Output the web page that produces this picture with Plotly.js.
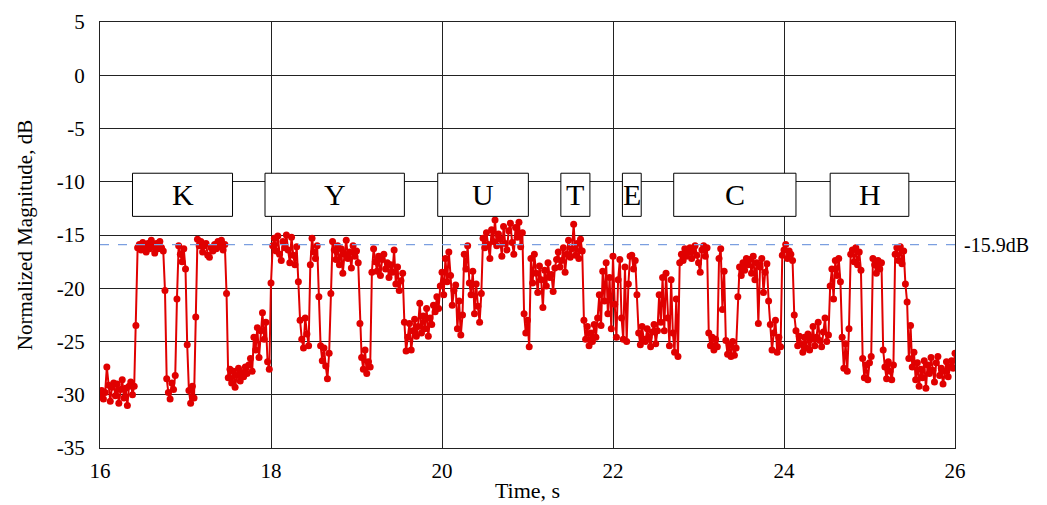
<!DOCTYPE html>
<html>
<head>
<meta charset="utf-8">
<script src="https://cdn.plot.ly/plotly-3.0.1.min.js"></script>
<style>
html,body{margin:0;padding:0;background:#fff;}
#chart{width:1047px;height:505px;}
</style>
</head>
<body>
<div id="chart"></div>
<script>
// Sampling of the magnitude trace
const sampleStart = 16.0;   // s
const samplePeriod = 0.02;  // s

// Normalized magnitude (dB), one row = 0.2 s
const magnitudeDb = [
 -30.2,-29.6,-30.4,-29.8,-27.4,-29.1,-30.6,-29.3,-28.9,-30.1,
 -29.0,-30.8,-29.5,-28.6,-30.3,-29.4,-31.0,-29.2,-28.8,-30.0,
 -29.2,-23.5,-16.2,-15.9,-16.4,-15.7,-16.1,-16.6,-15.8,-16.3,
 -15.5,-16.0,-16.7,-15.8,-16.3,-15.6,-16.2,-16.5,-20.2,-28.5,
 -29.8,-30.4,-28.9,-29.5,-28.2,-21.0,-16.0,-16.8,-17.5,-16.3,
 -18.2,-25.3,-29.6,-30.8,-29.2,-30.3,-22.7,-15.4,-16.0,-15.6,
 -16.6,-16.0,-15.8,-16.9,-17.1,-16.2,-16.5,-15.9,-16.3,-15.6,
 -16.1,-15.5,-16.4,-15.9,-20.5,-28.4,-27.6,-28.9,-27.8,-29.3,
 -28.2,-27.5,-28.7,-27.9,-28.3,-27.4,-28.0,-27.2,-26.6,-27.8,
 -24.6,-25.8,-23.7,-26.5,-24.0,-22.3,-24.8,-23.2,-26.9,-27.6,
 -19.5,-16.0,-15.3,-16.5,-15.1,-16.8,-17.4,-15.6,-16.2,-15.0,
 -16.4,-17.6,-15.2,-16.9,-17.8,-16.1,-19.4,-23.0,-24.8,-25.6,
 -22.8,-24.3,-25.4,-17.8,-15.3,-16.6,-17.2,-16.0,-20.8,-25.4,
 -26.8,-25.6,-27.3,-28.5,-26.1,-20.5,-15.6,-16.4,-17.3,-16.0,
 -17.8,-16.3,-18.6,-16.8,-15.5,-17.2,-16.6,-18.1,-16.0,-17.0,
 -16.5,-17.6,-23.3,-26.5,-27.6,-25.8,-28.0,-26.9,-27.4,-18.5,
 -16.3,-17.5,-18.4,-17.0,-18.8,-17.3,-16.8,-18.2,-17.6,-19.0,
 -17.8,-18.5,-16.4,-19.6,-18.0,-20.2,-19.3,-18.6,-23.2,-25.9,
 -24.6,-23.3,-25.8,-24.0,-22.9,-24.5,-23.6,-21.4,-24.2,-22.6,
 -23.8,-21.9,-24.5,-22.8,-23.4,-21.6,-22.2,-20.8,-21.9,-19.8,
 -18.5,-20.6,-17.2,-19.4,-16.6,-18.8,-21.6,-20.2,-19.7,-23.8,
 -21.2,-24.4,-22.5,-16.8,-18.2,-16.0,-19.5,-20.6,-18.4,-22.4,
 -19.6,-21.7,-23.2,-20.5,-15.3,-16.2,-14.8,-15.9,-17.2,-14.5,
 -15.6,-13.6,-16.0,-14.9,-15.4,-17.0,-14.2,-15.8,-16.4,-14.6,
 -13.9,-15.7,-16.8,-14.3,-15.2,-13.8,-16.1,-14.8,-22.4,-24.2,
 -23.0,-25.5,-17.2,-19.5,-16.8,-18.6,-20.4,-17.9,-19.2,-21.8,
 -18.3,-19.8,-17.6,-19.0,-18.7,-20.3,-18.1,-17.3,-16.6,-18.0,
 -17.4,-16.2,-18.5,-16.8,-15.5,-17.1,-16.3,-14.0,-16.9,-15.8,
 -17.2,-15.4,-16.5,-23.0,-24.8,-23.6,-25.4,-24.2,-25.0,-23.4,
 -24.6,-22.8,-20.6,-23.5,-18.4,-21.2,-17.6,-22.4,-19.0,-23.8,
 -17.0,-21.5,-24.6,-19.2,-17.3,-22.8,-24.8,-18.0,-25.0,-19.6,
 -17.0,-16.9,-18.2,-17.4,-20.6,-24.2,-25.3,-23.6,-24.8,-25.0,
 -23.8,-24.6,-25.5,-24.1,-23.4,-25.2,-24.0,-20.6,-23.2,-19.0,
 -24.0,-18.6,-22.8,-25.4,-19.2,-24.2,-26.0,-21.0,-26.4,-17.6,
 -16.8,-17.4,-16.3,-17.0,-16.6,-16.2,-17.2,-16.5,-16.0,-16.9,
 -17.6,-18.5,-16.4,-16.0,-17.0,-16.2,-24.2,-25.4,-24.6,-25.8,
 -24.8,-25.5,-17.2,-16.3,-22.0,-18.4,-24.9,-26.2,-25.3,-26.4,
 -25.0,-26.3,-25.6,-20.8,-18.0,-18.8,-17.6,-18.3,-17.2,-17.8,
 -17.3,-18.6,-17.0,-19.2,-17.6,-23.3,-18.0,-17.2,-20.4,-18.5,
 -17.7,-21.2,-23.4,-25.8,-24.2,-23.0,-26.0,-24.6,-25.5,-16.9,
 -16.4,-15.9,-17.2,-16.5,-16.8,-17.4,-22.5,-24.0,-25.4,-24.5,
 -25.2,-26.0,-24.6,-25.6,-24.3,-25.8,-24.8,-23.6,-25.4,-24.6,
 -23.2,-24.9,-25.5,-24.1,-22.8,-25.0,-24.4,-19.8,-18.2,-21.0,
 -17.4,-18.8,-17.2,-19.4,-24.6,-27.5,-25.2,-27.8,-23.8,-16.8,
 -16.4,-17.5,-16.2,-17.8,-16.6,-18.3,-26.6,-28.4,-27.2,-28.6,
 -27.0,-26.4,-17.2,-17.8,-18.6,-17.4,-18.2,-17.6,-25.8,-27.4,
 -28.5,-26.9,-27.8,-28.6,-27.2,-16.8,-16.2,-17.4,-16.1,-17.7,
 -16.5,-19.6,-21.3,-26.6,-23.5,-27.4,-26.0,-28.6,-27.0,-29.2,
 -27.6,-28.4,-26.8,-29.4,-27.2,-28.0,-26.5,-27.7,-28.8,-27.0,
 -26.4,-28.2,-27.5,-29.0,-27.8,-26.9,-28.3,-27.4,-26.8,-27.5,
 -26.1
];

// Threshold level
const thresholdDb = -15.9;
const thresholdLabel = "-15.9dB";

// Spoken letters and their time spans (s)
const letterNames = ["K", "Y", "U", "T", "E", "C", "H"];
const letterStart = [16.38, 17.93, 19.95, 21.39, 22.11, 22.71, 24.54];
const letterEnd   = [17.55, 19.56, 21.01, 21.73, 22.33, 24.14, 25.46];

// Axis ticks
const xTicks = [16, 18, 20, 22, 24, 26];
const yTicks = [5, 0, -5, -10, -15, -20, -25, -30, -35];

const timeS = magnitudeDb.map((_, i) => +(sampleStart + i * samplePeriod).toFixed(3));

const FONT = "'Liberation Serif', 'Times New Roman', Times, serif";
const boxTop = -9.2, boxBottom = -13.25;

const shapes = [];
const annotations = [];
letterNames.forEach((name, i) => {
  shapes.push({
    type: 'rect', xref: 'x', yref: 'y', layer: 'above',
    x0: letterStart[i], x1: letterEnd[i], y0: boxBottom, y1: boxTop,
    fillcolor: '#ffffff', line: {color: '#000000', width: 1}
  });
  annotations.push({
    xref: 'x', yref: 'y', x: (letterStart[i] + letterEnd[i]) / 2, y: (boxTop + boxBottom) / 2,
    text: name, showarrow: false, xanchor: 'center', yanchor: 'middle',
    font: {family: FONT, size: 30, color: '#000000'}
  });
});
shapes.push({
  type: 'line', xref: 'paper', yref: 'y', layer: 'above',
  x0: 0, x1: 1, y0: thresholdDb, y1: thresholdDb,
  line: {color: '#7b9fe0', width: 1.2, dash: 'dash'}
});
annotations.push({
  xref: 'paper', yref: 'y', x: 1, y: thresholdDb, xshift: 7,
  text: thresholdLabel, showarrow: false, xanchor: 'left', yanchor: 'middle',
  font: {family: FONT, size: 20, color: '#000000'}
});

const trace = {
  type: 'scatter', mode: 'lines+markers',
  x: timeS, y: magnitudeDb,
  line: {color: '#e00000', width: 2},
  marker: {color: '#e00000', size: 7},
  hoverinfo: 'x+y', showlegend: false
};

const layout = {
  width: 1047, height: 505,
  margin: {l: 100, r: 92, t: 22, b: 57},
  paper_bgcolor: '#ffffff', plot_bgcolor: '#ffffff',
  font: {family: FONT, size: 21, color: '#000000'},
  showlegend: false,
  xaxis: {
    range: [16, 26], tickvals: xTicks, ticktext: xTicks.map(String),
    showgrid: true, gridcolor: '#222222', gridwidth: 1,
    showline: true, mirror: true, linecolor: '#222222', linewidth: 1,
    zeroline: false, ticks: 'outside', ticklen: 4, tickcolor: 'rgba(0,0,0,0)',
    tickfont: {family: FONT, size: 21, color: '#000000'},
    title: {text: 'Time, s', font: {family: FONT, size: 22, color: '#000000'}, standoff: 0},
    automargin: false
  },
  yaxis: {
    range: [-35, 5], tickvals: yTicks, ticktext: yTicks.map(String),
    showgrid: true, gridcolor: '#222222', gridwidth: 1,
    showline: true, mirror: true, linecolor: '#222222', linewidth: 1,
    zeroline: false, ticks: 'outside', ticklen: 10, tickcolor: 'rgba(0,0,0,0)',
    tickfont: {family: FONT, size: 21, color: '#000000'},
    title: {text: 'Normalized Magnitude, dB', font: {family: FONT, size: 21, color: '#000000'}, standoff: 18},
    automargin: false
  },
  shapes: shapes,
  annotations: annotations
};

Plotly.newPlot('chart', [trace], layout, {displayModeBar: false, staticPlot: true});
</script>
</body>
</html>
